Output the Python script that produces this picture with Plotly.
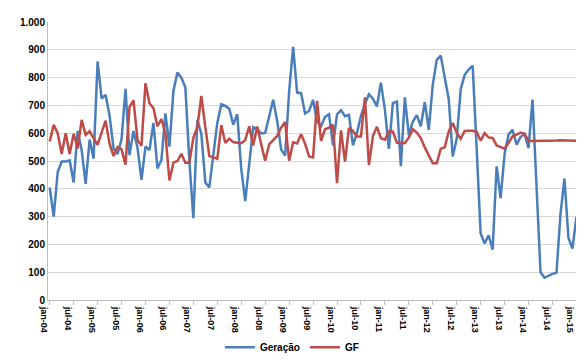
import plotly.graph_objects as go

months_pt = ["jan", "fev", "mar", "abr", "mai", "jun", "jul", "ago", "set", "out", "nov", "dez"]
start_year = 2004

geracao = [404, 300, 460, 498, 498, 502, 423, 608, 540, 418, 577, 508,
           858, 725, 738, 663, 545, 525, 578, 760, 521, 608, 548, 432,
           552, 539, 637, 473, 504, 671, 552, 752, 818, 800, 764, 500,
           294, 648, 598, 423, 405, 515, 637, 704, 698, 688, 631, 668,
           472, 356, 490, 622, 614, 599, 601, 660, 720, 645, 541, 520,
           750, 911, 746, 744, 671, 680, 720, 642, 625, 658, 668, 556,
           668, 683, 661, 666, 556, 601, 662, 705, 740, 724, 696, 782,
           685, 544, 708, 714, 481, 729, 593, 642, 665, 625, 712, 612,
           775, 864, 879, 800, 723, 516, 580, 758, 810, 829, 843, 545,
           239, 203, 233, 181, 481, 366, 525, 596, 612, 559, 586, 598,
           546, 721, 412, 100, 80, 87, 94, 98, 308, 437, 224, 185,
           299, 135]

gf = [570, 630, 600, 525, 600, 525, 598, 545, 648, 594, 607, 580,
      558, 602, 645, 562, 518, 550, 542, 487, 695, 718, 575, 555,
      780, 708, 690, 625, 651, 598, 430, 494, 500, 526, 494, 494,
      583, 622, 734, 622, 518, 513, 508, 629, 565, 580, 568, 566,
      564, 575, 625, 556, 624, 560, 501, 560, 576, 590, 620, 640,
      501, 567, 563, 596, 562, 516, 513, 716, 572, 614, 620, 630,
      420, 610, 498, 619, 608, 588, 588, 729, 485, 590, 623, 582,
      577, 606, 606, 566, 564, 565, 584, 614, 602, 582, 549, 521,
      492, 492, 544, 549, 606, 637, 602, 580, 608, 609, 609, 605,
      573, 600, 585, 583, 556, 550, 544, 565, 589, 595, 602, 597,
      573, 572, 572, 572, 572, 573, 573, 574, 575, 575, 574, 574,
      573, 571]

n = len(geracao)
x_idx = list(range(n))
tick_idx = list(range(0, n, 6))
tick_txt = [f"{months_pt[i % 12]}-{(start_year + i // 12) % 100:02d}" for i in tick_idx]

BLUE = "#4A7EBB"
RED = "#BE4B48"

fig = go.Figure()
fig.add_trace(go.Scatter(x=x_idx, y=geracao, mode="lines", name="Geração",
                         line=dict(color=BLUE, width=2.5)))
fig.add_trace(go.Scatter(x=x_idx, y=gf, mode="lines", name="GF",
                         line=dict(color=RED, width=2.5)))

font_main = "Liberation Sans, Arial, sans-serif"

fig.update_layout(
    width=584, height=362,
    margin=dict(l=40, r=8, t=10, b=63),
    paper_bgcolor="white", plot_bgcolor="white",
    separators=",.",
    showlegend=True,
    legend=dict(orientation="h", x=0.455, xanchor="center", y=-0.17, yanchor="middle",
                font=dict(family=font_main, size=10, color="#000000", weight="bold"),
                itemwidth=30, tracegroupgap=0),
    font=dict(family=font_main, size=10, color="#000000"),
)

fig.update_xaxes(
    range=[-0.43, 133.9],
    tickmode="array", tickvals=tick_idx, ticktext=tick_txt,
    tickangle=90, ticks="outside", ticklen=4, tickcolor="#BFBFBF",
    ticklabelshift=-6, ticklabeloverflow="allow",
    showline=True, linecolor="#BFBFBF", linewidth=1,
    showgrid=False, zeroline=False,
    tickfont=dict(family=font_main, size=9, color="#000000", weight="bold"),
)
fig.update_yaxes(
    range=[0, 1000], dtick=100, tick0=0,
    separatethousands=True, tickformat=",d",
    showgrid=True, gridcolor="#D9D9D9", gridwidth=1,
    showline=True, linecolor="#BFBFBF", linewidth=1,
    zeroline=False, ticks="",
    tickfont=dict(family=font_main, size=10, color="#000000", weight="bold"),
)

fig.write_html("out.html")
